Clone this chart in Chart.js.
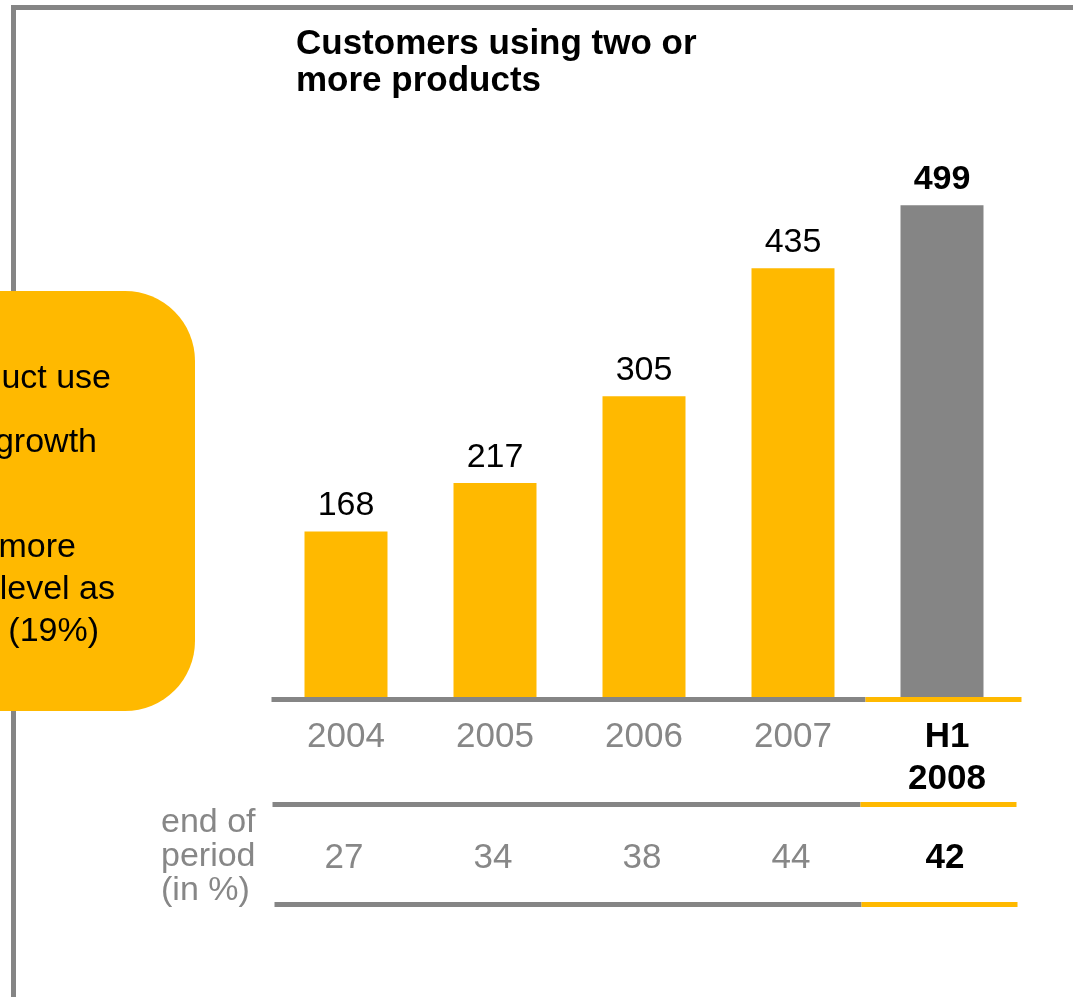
<!DOCTYPE html>
<html>
<head>
<meta charset="utf-8">
<title>Customers using two or more products</title>
<script src="https://cdn.jsdelivr.net/npm/chart.js@4/dist/chart.umd.min.js"></script>
<style>
  html, body { margin: 0; padding: 0; background: #fff; overflow: hidden; }
  #chart { position: absolute; left: 0; top: 0; }
</style>
</head>
<body>
<canvas id="chart" width="1073" height="997"></canvas>
<script>
const periods = ["2004", "2005", "2006", "2007", "H1 2008"];
const customers = [168, 217, 305, 435, 499];
const shareEndOfPeriod = [27, 34, 38, 44, 42];
const titleLines = ["Customers using two or", "more products"];
const rowLabel = ["end of", "period", "(in %)"];
const noteLines = ["uct use", "growth", "more", "level as", " (19%)"];

const ORANGE = "#FFB900";
const GRAY = "#858585";
const TEXT_GRAY = "#878787";
const FONT = '"Liberation Sans", Arial, Helvetica, sans-serif';

const last = periods.length - 1;

// frame, callout box, title, value labels and the small table under the bars
const slideParts = {
  id: "slideParts",
  beforeDraw(chart) {
    const ctx = chart.ctx;
    ctx.save();
    ctx.fillStyle = GRAY;
    ctx.fillRect(11, 5, 1100, 5);
    ctx.fillRect(11, 5, 5, 1000);

    ctx.fillStyle = ORANGE;
    ctx.beginPath();
    ctx.roundRect(-300, 291, 495, 420, 70);
    ctx.fill();

    ctx.fillStyle = "#000";
    ctx.font = "34px " + FONT;
    ctx.textAlign = "right";
    ctx.textBaseline = "alphabetic";
    const noteRight = [111, 97, 76, 115, 99];
    const noteBase = [388, 452, 557, 599, 641];
    noteLines.forEach((t, i) => ctx.fillText(t, noteRight[i], noteBase[i]));

    ctx.textAlign = "left";
    ctx.font = "bold 35px " + FONT;
    titleLines.forEach((t, i) => ctx.fillText(t, 296, 54 + i * 37));
    ctx.restore();
  },
  afterDatasetsDraw(chart) {
    const ctx = chart.ctx;
    const x = chart.scales.x;
    const area = chart.chartArea;
    const bars = chart.getDatasetMeta(0).data;
    const split = (x.getPixelForValue(last - 1) + x.getPixelForValue(last)) / 2;

    ctx.save();
    // axis line and table rules, grey for full years, orange for the half year
    const rule = (y, x0, x1, at) => {
      ctx.fillStyle = GRAY;
      ctx.fillRect(x0, y, at - x0, 5);
      ctx.fillStyle = ORANGE;
      ctx.fillRect(at, y, x1 - at, 5);
    };
    rule(area.bottom, area.left, area.right + 5, split - 2);
    rule(802, area.left + 1, area.right, split - 7);
    rule(902, area.left + 3, area.right + 1, split - 6);

    ctx.textAlign = "center";
    ctx.textBaseline = "alphabetic";
    bars.forEach((bar, i) => {
      const bold = i === last;
      ctx.fillStyle = "#000";
      ctx.font = (bold ? "bold " : "") + "34px " + FONT;
      ctx.fillText(String(customers[i]), bar.x, bar.y - 16);

      ctx.fillStyle = bold ? "#000" : TEXT_GRAY;
      ctx.font = (bold ? "bold " : "") + "35px " + FONT;
      const cx = bold ? bar.x + 5 : bar.x;
      periods[i].split(" ").forEach((t, j) => ctx.fillText(t, cx, 747 + j * 42));
      ctx.fillText(String(shareEndOfPeriod[i]), bold ? bar.x + 3 : bar.x - 2, 868);
    });

    ctx.textAlign = "left";
    ctx.fillStyle = TEXT_GRAY;
    ctx.font = "34px " + FONT;
    rowLabel.forEach((t, i) => ctx.fillText(t, 161, 832 + i * 34));
    ctx.restore();
  }
};

new Chart(document.getElementById("chart"), {
  type: "bar",
  data: {
    labels: periods,
    datasets: [{
      data: customers,
      backgroundColor: customers.map((_, i) => (i === last ? GRAY : ORANGE)),
      borderWidth: 0,
      barPercentage: 0.557,
      categoryPercentage: 1
    }]
  },
  options: {
    responsive: false,
    animation: false,
    layout: { padding: { left: 271.5, right: 56.5, top: 145, bottom: 300 } },
    plugins: {
      legend: { display: false },
      tooltip: { enabled: false }
    },
    scales: {
      x: { display: false },
      y: { display: false, min: 0, max: 560 }
    }
  },
  plugins: [slideParts]
});
</script>
</body>
</html>
